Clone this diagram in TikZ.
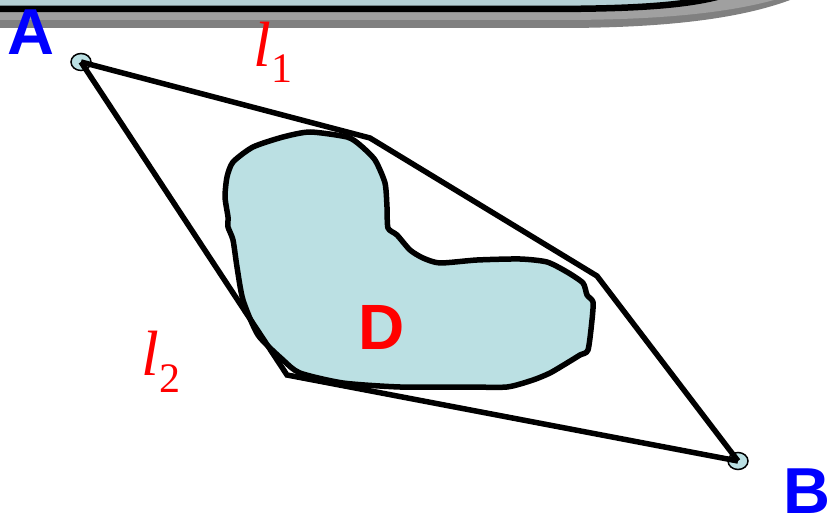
\documentclass[tikz,border=0pt]{standalone}
\usepackage{fontspec}
\newfontfamily\sanslab{Liberation Sans}
\newfontfamily\seriflab{Liberation Serif}
\usetikzlibrary{shapes.geometric}
\definecolor{barblue}{RGB}{180,207,212}
\definecolor{regionblue}{RGB}{187,224,227}
\definecolor{shadowlight}{RGB}{160,160,160}
\definecolor{shadowdark}{RGB}{128,128,128}

\begin{document}
\begin{tikzpicture}[x=1pt, y=-1pt, line width=5.5pt,
		endpt/.style={ellipse, draw=black, line width=1.5pt, fill=regionblue, minimum width=20pt, minimum height=17pt, inner sep=0pt},
		ptlabel/.style={blue, inner sep=0pt, font=\sanslab\bfseries\fontsize{65}{65}\selectfont},
		linelabel/.style={red, inner sep=0pt, anchor=base, font=\seriflab\fontsize{64}{64}\selectfont}]
				\useasboundingbox (0,0) rectangle (832,518);
				
				% 顶部标题栏 (阴影 + 圆角)
				\fill[shadowdark] (-5,-20) -- (-5,28) -- (560,28) .. controls (690,28) and (780,14) .. (830,-20) -- cycle;
				\fill[shadowlight] (-5,-20) -- (-5,20) -- (560,20) .. controls (690,20) and (775,8) .. (825,-20) -- cycle;
				\draw[fill=barblue, line width=6.5pt] (-10,-20) -- (-10,9) -- (540,9) .. controls (660,9) and (720,4) .. (760,-20) -- cycle;
				
				% 区域 D
				\draw[fill=regionblue, line join=round] plot[smooth cycle, tension=0.4] coordinates {
					(310,132) (347,137) (360,145) (375,160) (385,183) (387,207) (388,228) (397,235)
					(410,250) (423,258) (440,263) (477,260) (520,259) (547,262) (567,272) (583,283)
					(587,295) (593,302) (592,320) (588,350) (580,355) (567,363) (550,373) (533,380)
					(507,387) (467,387) (400,387) (343,383) (300,373) (283,360) (258,335) (243,300)
					(237,267) (233,240) (228,227) (228,217) (225,197) (227,177) (233,162) (253,147)
					(283,137)};
				
				% 端点 A, B
				\node[endpt] (A) at (81,62) {};
				\node[endpt] (B) at (738,461) {};
				
				% 折线的拐点
				\coordinate (P1) at (370,138);
				\coordinate (P2) at (597,276);
				\coordinate (P3) at (287,375);
				
				% 两条路径 l1, l2
				\draw (A.center) -- (P1) -- (P2) -- (B.center);
				\draw (A.center) -- (P3) -- (B.center);
				
				% 标注
				\node[ptlabel] (labA) at (31,32) {A};
				\node[ptlabel] (labB) at (807,491) {B};
				\node[ptlabel, red, font=\sanslab\bfseries\fontsize{64}{64}\selectfont] (labD) at (382,327) {D};
				\node[linelabel] (l1) at (273,67) {\itshape l\/\upshape\raisebox{-16pt}{\fontsize{42}{42}\selectfont 1}};
				\node[linelabel] (l2) at (161,375) {\itshape l\/\upshape\raisebox{-17pt}{\fontsize{42}{42}\selectfont 2}};
			\end{tikzpicture}
\end{document}
